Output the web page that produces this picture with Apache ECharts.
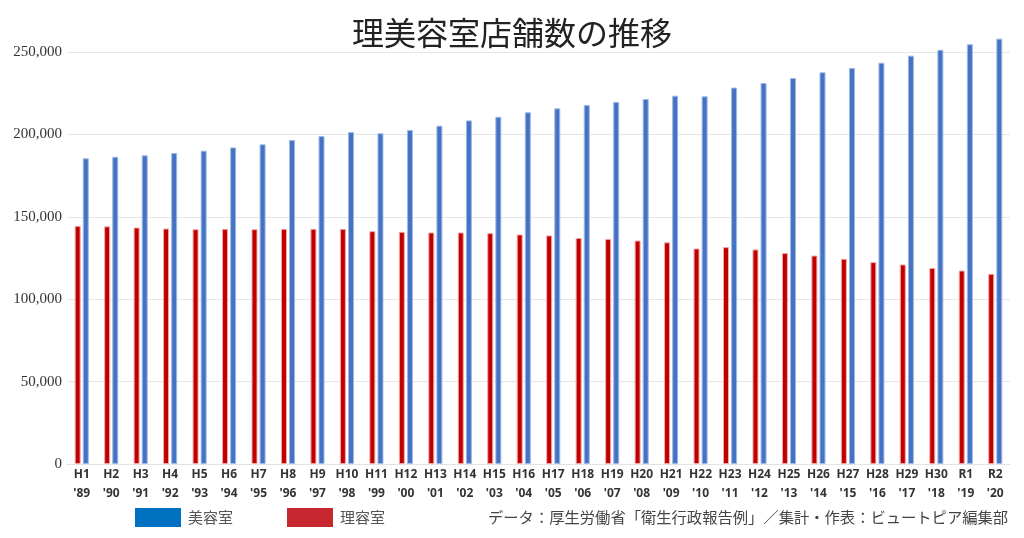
<!DOCTYPE html>
<html><head><meta charset="utf-8">
<script src="https://cdn.jsdelivr.net/npm/echarts@6/dist/echarts.min.js"></script>
<style>html,body{margin:0;padding:0;background:#fff}#c{width:1024px;height:538px}</style>
</head><body><div id="c"></div>
<script>
const eraLabels = ['H1','H2','H3','H4','H5','H6','H7','H8','H9','H10','H11','H12','H13','H14','H15','H16','H17','H18','H19','H20','H21','H22','H23','H24','H25','H26','H27','H28','H29','H30','R1','R2'];
const yearLabels = ["'89","'90","'91","'92","'93","'94","'95","'96","'97","'98","'99","'00","'01","'02","'03","'04","'05","'06","'07","'08","'09","'10","'11","'12","'13","'14","'15","'16","'17","'18","'19","'20"];
const biyoushitsu = [185500,186400,187300,188700,190100,192100,194000,196600,199000,201400,200700,202700,205300,208500,210700,213400,215800,217900,219700,221500,223500,223100,228400,231200,234200,237700,240300,243500,247800,251300,254700,258100];
const riyoushitsu = [144500,144200,143500,142900,142500,142700,142500,142700,142700,142700,141300,140900,140500,140500,140100,139300,138700,137200,136600,135600,134500,130800,131600,130200,128100,126500,124500,122500,121100,119000,117400,115400];
const yTicks = [0,50000,100000,150000,200000,250000];
const categories = eraLabels.map((e,i)=>e+'\n'+yearLabels[i]);

const chart = echarts.init(document.getElementById('c'), null, {renderer:'canvas'});
chart.setOption({
  animation:false,
  backgroundColor:'#fff',
  title:{text:'理美容室店舗数の推移',left:'center',top:12,
    textStyle:{fontFamily:'Noto Sans CJK JP',fontSize:32,fontWeight:'normal',color:'#222'}},
  grid:{left:67,right:14,top:52,bottom:74},
  legend:{left:130,top:503,itemWidth:46,itemHeight:19,itemGap:54,icon:'rect',
    textStyle:{fontFamily:'Noto Sans CJK JP',fontSize:15,color:'#555',padding:[0,0,0,2]},
    data:[{name:'美容室',itemStyle:{color:'#0070C0',borderWidth:0}},{name:'理容室',itemStyle:{color:'#C6262E',borderWidth:0}}]},
  graphic:[{type:'text',left:488,top:510,style:{text:'データ：厚生労働省「衛生行政報告例」／集計・作表：ビュートピア編集部',
    font:'15.3px "Noto Sans CJK JP"',fill:'#444'}}],
  xAxis:{type:'category',data:categories,
    axisLine:{show:true,lineStyle:{color:'#e3e3e3'}},axisTick:{show:false},
    axisLabel:{interval:0,margin:1,lineHeight:19,fontFamily:'Noto Sans',fontWeight:'bold',fontSize:12,color:'#333'}},
  yAxis:{type:'value',min:yTicks[0],max:yTicks[yTicks.length-1],interval:yTicks[1]-yTicks[0],
    axisLine:{show:false},axisTick:{show:false},
    splitLine:{lineStyle:{color:'#e6e6e6',width:1}},
    axisLabel:{margin:5,fontFamily:'Liberation Serif',fontSize:15,color:'#333',
      formatter:v=>v.toLocaleString('en-US')}},
  series:[
    {name:'理容室',type:'bar',data:riyoushitsu,barWidth:6,barGap:'35%',clip:false,
      itemStyle:{color:'#C00000',borderColor:'#f2a9a9',borderWidth:1}},
    {name:'美容室',type:'bar',data:biyoushitsu,barWidth:6,barGap:'35%',clip:false,
      itemStyle:{color:'#4472C4',borderColor:'#9fb8e6',borderWidth:1}}
  ]
});
</script></body></html>
